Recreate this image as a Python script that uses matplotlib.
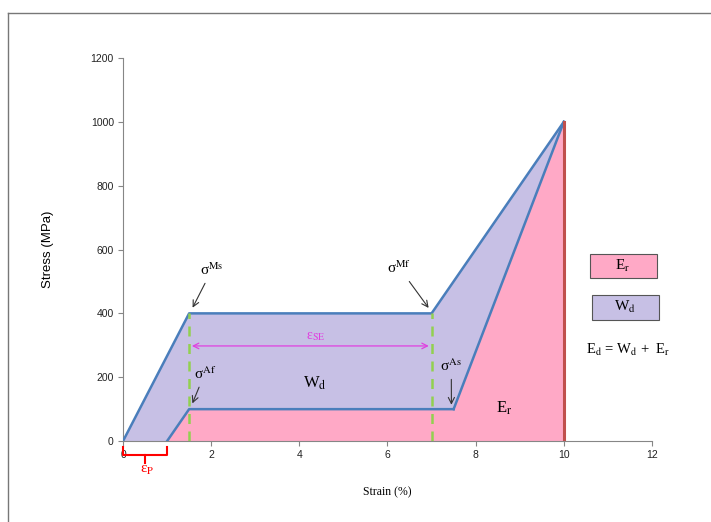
import matplotlib.pyplot as plt
from matplotlib.lines import Line2D
from matplotlib.patches import Rectangle

plt.rcParams['font.family'] = ['Liberation Serif', 'DejaVu Serif']
plt.rcParams['mathtext.fontset'] = 'stix'

# loading / unloading paths (strain %, stress MPa)
load_x = [0, 1.5, 7, 10]
load_y = [0, 400, 400, 1000]
unload_x = [10, 7.5, 1.5, 1]
unload_y = [1000, 100, 100, 0]
marks_x = [1.5, 7]  # green dashed lines

fig = plt.figure(figsize=(7.11, 5.22), dpi=100)
ax = fig.add_axes([0.173, 0.155, 0.744, 0.734])

# regions
pink_x = unload_x[::-1] + [10]
pink_y = unload_y[::-1] + [0]
ax.fill(pink_x, pink_y, color='#FFA9C6', lw=0, zorder=1)
lav_x = load_x + unload_x[1:]
lav_y = load_y + unload_y[1:]
ax.fill(lav_x, lav_y, color='#C7C0E5', lw=0, zorder=1)

ax.plot(load_x, load_y, color='#4A7EBB', lw=1.8, zorder=3)
ax.plot(unload_x[1:], unload_y[1:], color='#4A7EBB', lw=1.8, zorder=3)
ax.plot(unload_x[:2], unload_y[:2], color='#4A7EBB', lw=1.8, zorder=3)
ax.plot([10, 10], [0, 1000], color='#C0504D', lw=2.2, zorder=4)
for mx in marks_x:
    ax.plot([mx, mx], [0, 400], color='#92D050', lw=1.8, ls=(0, (4, 3)), zorder=4)

ax.set_xlim(0, 12)
ax.set_ylim(0, 1200)
ax.set_xticks(range(0, 13, 2))
ax.set_yticks(range(0, 1201, 200))
for s in ['top', 'right']:
    ax.spines[s].set_visible(False)
for s in ['left', 'bottom']:
    ax.spines[s].set_color('#868686')
ax.tick_params(colors='#868686', labelcolor='#222222', labelsize=7.5, length=3.6, pad=3)
for lab in ax.get_xticklabels() + ax.get_yticklabels():
    lab.set_family('Liberation Sans')
ax.set_xlabel('Strain (%)', fontsize=8.5, labelpad=19)
ax.set_ylabel('Stress (MPa)', fontsize=9.5, labelpad=26, family='Liberation Sans')

arr = dict(arrowstyle='->', color='#333333', lw=0.8)
ax.annotate(r'σ$^{\mathrm{Ms}}$', xy=(1.55, 410), xytext=(1.75, 520), fontsize=11, arrowprops=arr, zorder=5)
ax.annotate(r'σ$^{\mathrm{Mf}}$', xy=(6.97, 410), xytext=(6.0, 525), fontsize=11, arrowprops=arr, zorder=5)
ax.annotate(r'σ$^{\mathrm{Af}}$', xy=(1.55, 110), xytext=(1.6, 195), fontsize=11, arrowprops=arr, zorder=5)
ax.annotate(r'σ$^{\mathrm{As}}$', xy=(7.45, 105), xytext=(7.2, 220), fontsize=11, arrowprops=arr, zorder=5)
ax.annotate('', xy=(1.5, 298), xytext=(7, 298),
            arrowprops=dict(arrowstyle='<->', color='#E040E0', lw=0.9), zorder=5)
ax.text(4.38, 318, r'ε$_{\mathrm{SE}}$', color='#E040E0', fontsize=10, ha='center')
ax.text(4.35, 168, r'W$_{\mathrm{d}}$', fontsize=12, ha='center')
ax.text(8.65, 90, r'E$_{\mathrm{r}}$', fontsize=12, ha='center')

# epsilon_p bracket under the axis
red = '#FF0000'
ax.plot([0, 0, 1, 1], [-20, -45, -45, -20], color=red, lw=1.5, clip_on=False)
ax.plot([0.5, 0.5], [-45, -68], color=red, lw=1.5, clip_on=False)
ax.text(0.55, -70, r'ε$_{\mathrm{P}}$', color=red, fontsize=11, ha='center', va='top')

# legend-like boxes
fig.patches.append(Rectangle((590 / 711, 1 - 278 / 522), 67 / 711, 24 / 522, transform=fig.transFigure,
                             facecolor='#FFA9C6', edgecolor='#555555', lw=0.8))
fig.patches.append(Rectangle((592 / 711, 1 - 320 / 522), 67 / 711, 25 / 522, transform=fig.transFigure,
                             facecolor='#C7C0E5', edgecolor='#555555', lw=0.8))
fig.text(623 / 711, 1 - 266 / 522, r'E$_{\mathrm{r}}$', fontsize=11, ha='center', va='center')
fig.text(625 / 711, 1 - 307 / 522, r'W$_{\mathrm{d}}$', fontsize=11, ha='center', va='center')
fig.text(628 / 711, 1 - 350 / 522, r'E$_{\mathrm{d}}$ = W$_{\mathrm{d}}$ +  E$_{\mathrm{r}}$',
         fontsize=10.5, ha='center', va='center')

# outer frame (partially cropped)
fig.lines.append(Line2D([8 / 711, 8 / 711], [0, 1 - 13 / 522], transform=fig.transFigure, color='#777777', lw=1))
fig.lines.append(Line2D([8 / 711, 1], [1 - 13 / 522, 1 - 13 / 522], transform=fig.transFigure, color='#777777', lw=1))

fig.savefig('out.png', dpi=100)
